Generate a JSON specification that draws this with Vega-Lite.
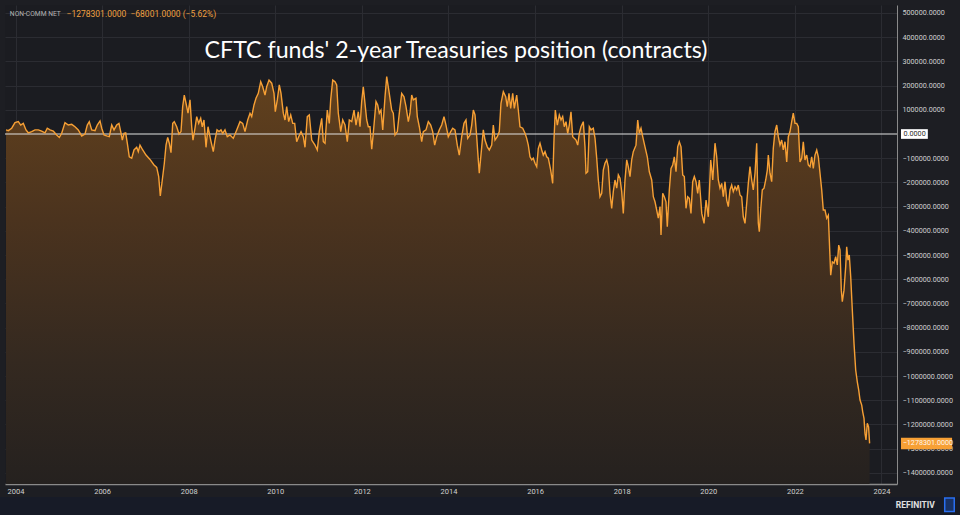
{
  "$schema": "https://vega.github.io/schema/vega-lite/v6.json",
  "width": 892,
  "height": 479,
  "autosize": {"type": "none"},
  "padding": {"left": 5, "top": 5, "right": 63, "bottom": 31},
  "background": "#1d1e23",
  "config": {
    "view": {"stroke": null, "fill": "#1b1c21"},
    "axis": {"labelFont": "Roboto", "labelColor": "#d0d0d0", "gridColor": "#2b2c32", "gridWidth": 1, "ticks": false, "title": null, "labelOverlap": false}
  },
  "title": {"text": "CFTC funds' 2-year Treasuries position (contracts)", "font": "Lato", "fontSize": 23.2, "fontWeight": "normal", "color": "#ffffff", "anchor": "middle", "frame": "group", "baseline": "alphabetic", "dx": 5, "dy": 80},
  "datasets": {"series": [
    {"t":2003.781,"v":17000},{"t":2003.834,"v":14000},{"t":2003.912,"v":24000},{"t":2003.988,"v":47000},{"t":2004.065,"v":51000},{"t":2004.120,"v":37000},{"t":2004.180,"v":44000},{"t":2004.242,"v":17000},{"t":2004.296,"v":5000},{"t":2004.374,"v":10000},
    {"t":2004.450,"v":17000},{"t":2004.527,"v":17000},{"t":2004.605,"v":12000},{"t":2004.681,"v":5000},{"t":2004.734,"v":24000},{"t":2004.797,"v":17000},{"t":2004.873,"v":12000},{"t":2004.951,"v":-4000},{"t":2005.012,"v":-14000},{"t":2005.067,"v":3000},
    {"t":2005.143,"v":47000},{"t":2005.219,"v":37000},{"t":2005.298,"v":40000},{"t":2005.374,"v":30000},{"t":2005.450,"v":17000},{"t":2005.529,"v":-8000},{"t":2005.605,"v":0},{"t":2005.658,"v":37000},{"t":2005.704,"v":51000},{"t":2005.760,"v":17000},
    {"t":2005.836,"v":14000},{"t":2005.889,"v":37000},{"t":2005.952,"v":54000},{"t":2005.991,"v":24000},{"t":2006.044,"v":-4000},{"t":2006.106,"v":-8000},{"t":2006.166,"v":-11000},{"t":2006.222,"v":37000},{"t":2006.275,"v":17000},{"t":2006.337,"v":37000},
    {"t":2006.390,"v":44000},{"t":2006.430,"v":10000},{"t":2006.467,"v":-25000},{"t":2006.506,"v":3000},{"t":2006.545,"v":5000},{"t":2006.582,"v":-38000},{"t":2006.628,"v":-94000},{"t":2006.684,"v":-100000},{"t":2006.737,"v":-66000},{"t":2006.799,"v":-55000},
    {"t":2006.836,"v":-73000},{"t":2006.875,"v":-46000},{"t":2006.938,"v":-66000},{"t":2007.014,"v":-87000},{"t":2007.106,"v":-105000},{"t":2007.199,"v":-128000},{"t":2007.261,"v":-138000},{"t":2007.307,"v":-176000},{"t":2007.344,"v":-256000},{"t":2007.390,"v":-190000},
    {"t":2007.437,"v":-121000},{"t":2007.476,"v":-46000},{"t":2007.515,"v":-14000},{"t":2007.552,"v":-38000},{"t":2007.591,"v":-77000},{"t":2007.631,"v":44000},{"t":2007.667,"v":51000},{"t":2007.723,"v":30000},{"t":2007.776,"v":0},{"t":2007.822,"v":10000},
    {"t":2007.861,"v":113000},{"t":2007.898,"v":161000},{"t":2007.938,"v":127000},{"t":2007.984,"v":86000},{"t":2008.030,"v":141000},{"t":2008.069,"v":30000},{"t":2008.099,"v":-25000},{"t":2008.139,"v":17000},{"t":2008.185,"v":72000},{"t":2008.231,"v":44000},
    {"t":2008.277,"v":65000},{"t":2008.314,"v":30000},{"t":2008.353,"v":58000},{"t":2008.400,"v":-55000},{"t":2008.446,"v":30000},{"t":2008.508,"v":-25000},{"t":2008.568,"v":-73000},{"t":2008.607,"v":-25000},{"t":2008.654,"v":17000},{"t":2008.700,"v":10000},
    {"t":2008.746,"v":17000},{"t":2008.785,"v":3000},{"t":2008.838,"v":17000},{"t":2008.891,"v":-11000},{"t":2008.954,"v":-4000},{"t":2009.030,"v":-18000},{"t":2009.109,"v":17000},{"t":2009.185,"v":51000},{"t":2009.247,"v":44000},{"t":2009.300,"v":10000},
    {"t":2009.363,"v":58000},{"t":2009.416,"v":86000},{"t":2009.455,"v":72000},{"t":2009.508,"v":120000},{"t":2009.554,"v":148000},{"t":2009.607,"v":168000},{"t":2009.663,"v":216000},{"t":2009.709,"v":195000},{"t":2009.762,"v":161000},{"t":2009.801,"v":195000},
    {"t":2009.855,"v":223000},{"t":2009.917,"v":210000},{"t":2009.970,"v":168000},{"t":2010.000,"v":92000},{"t":2010.046,"v":141000},{"t":2010.092,"v":203000},{"t":2010.132,"v":168000},{"t":2010.185,"v":86000},{"t":2010.224,"v":58000},{"t":2010.263,"v":113000},
    {"t":2010.309,"v":51000},{"t":2010.356,"v":79000},{"t":2010.402,"v":44000},{"t":2010.448,"v":44000},{"t":2010.494,"v":-32000},{"t":2010.540,"v":-11000},{"t":2010.594,"v":10000},{"t":2010.647,"v":-11000},{"t":2010.686,"v":-55000},{"t":2010.739,"v":72000},
    {"t":2010.785,"v":79000},{"t":2010.841,"v":-25000},{"t":2010.917,"v":-46000},{"t":2010.970,"v":-66000},{"t":2011.016,"v":10000},{"t":2011.072,"v":65000},{"t":2011.109,"v":-32000},{"t":2011.148,"v":-38000},{"t":2011.201,"v":99000},{"t":2011.247,"v":44000},
    {"t":2011.279,"v":141000},{"t":2011.326,"v":223000},{"t":2011.379,"v":216000},{"t":2011.418,"v":203000},{"t":2011.455,"v":86000},{"t":2011.511,"v":10000},{"t":2011.557,"v":58000},{"t":2011.610,"v":37000},{"t":2011.663,"v":-32000},{"t":2011.709,"v":58000},
    {"t":2011.765,"v":51000},{"t":2011.818,"v":99000},{"t":2011.864,"v":37000},{"t":2011.917,"v":92000},{"t":2011.956,"v":30000},{"t":2011.995,"v":134000},{"t":2012.032,"v":195000},{"t":2012.079,"v":113000},{"t":2012.111,"v":58000},{"t":2012.148,"v":30000},
    {"t":2012.187,"v":30000},{"t":2012.227,"v":-63000},{"t":2012.263,"v":3000},{"t":2012.326,"v":134000},{"t":2012.365,"v":120000},{"t":2012.402,"v":86000},{"t":2012.441,"v":99000},{"t":2012.481,"v":17000},{"t":2012.534,"v":154000},{"t":2012.573,"v":237000},
    {"t":2012.626,"v":175000},{"t":2012.688,"v":99000},{"t":2012.725,"v":86000},{"t":2012.765,"v":-4000},{"t":2012.818,"v":10000},{"t":2012.864,"v":86000},{"t":2012.919,"v":168000},{"t":2012.972,"v":154000},{"t":2013.019,"v":113000},{"t":2013.072,"v":51000},
    {"t":2013.111,"v":86000},{"t":2013.150,"v":161000},{"t":2013.187,"v":141000},{"t":2013.249,"v":148000},{"t":2013.279,"v":72000},{"t":2013.326,"v":30000},{"t":2013.381,"v":-32000},{"t":2013.418,"v":10000},{"t":2013.480,"v":17000},{"t":2013.534,"v":51000},
    {"t":2013.589,"v":37000},{"t":2013.635,"v":10000},{"t":2013.681,"v":-46000},{"t":2013.728,"v":-11000},{"t":2013.788,"v":17000},{"t":2013.843,"v":37000},{"t":2013.896,"v":72000},{"t":2013.942,"v":37000},{"t":2013.995,"v":-11000},{"t":2014.051,"v":10000},
    {"t":2014.097,"v":24000},{"t":2014.150,"v":17000},{"t":2014.203,"v":-46000},{"t":2014.249,"v":-87000},{"t":2014.305,"v":-11000},{"t":2014.358,"v":44000},{"t":2014.404,"v":58000},{"t":2014.443,"v":-18000},{"t":2014.497,"v":-4000},{"t":2014.536,"v":37000},
    {"t":2014.573,"v":99000},{"t":2014.612,"v":79000},{"t":2014.651,"v":-11000},{"t":2014.688,"v":-107000},{"t":2014.711,"v":-162000},{"t":2014.767,"v":-53000},{"t":2014.804,"v":17000},{"t":2014.843,"v":-25000},{"t":2014.896,"v":-53000},{"t":2014.942,"v":-66000},
    {"t":2014.998,"v":-46000},{"t":2015.035,"v":37000},{"t":2015.074,"v":-25000},{"t":2015.127,"v":-11000},{"t":2015.173,"v":10000},{"t":2015.212,"v":127000},{"t":2015.266,"v":175000},{"t":2015.321,"v":154000},{"t":2015.358,"v":113000},{"t":2015.397,"v":168000},
    {"t":2015.436,"v":106000},{"t":2015.483,"v":168000},{"t":2015.520,"v":106000},{"t":2015.575,"v":161000},{"t":2015.612,"v":99000},{"t":2015.651,"v":30000},{"t":2015.714,"v":24000},{"t":2015.767,"v":3000},{"t":2015.806,"v":-18000},{"t":2015.843,"v":-46000},
    {"t":2015.882,"v":-94000},{"t":2015.922,"v":-107000},{"t":2015.958,"v":-100000},{"t":2015.998,"v":-121000},{"t":2016.037,"v":-135000},{"t":2016.074,"v":-59000},{"t":2016.113,"v":-38000},{"t":2016.153,"v":-66000},{"t":2016.189,"v":-87000},{"t":2016.229,"v":-73000},
    {"t":2016.268,"v":-94000},{"t":2016.305,"v":-100000},{"t":2016.360,"v":-149000},{"t":2016.406,"v":-204000},{"t":2016.436,"v":-25000},{"t":2016.467,"v":99000},{"t":2016.513,"v":37000},{"t":2016.559,"v":79000},{"t":2016.598,"v":58000},{"t":2016.637,"v":72000},
    {"t":2016.674,"v":30000},{"t":2016.714,"v":51000},{"t":2016.753,"v":3000},{"t":2016.790,"v":37000},{"t":2016.829,"v":92000},{"t":2016.868,"v":-11000},{"t":2016.905,"v":-18000},{"t":2016.945,"v":-25000},{"t":2016.984,"v":-46000},{"t":2017.021,"v":3000},
    {"t":2017.060,"v":30000},{"t":2017.113,"v":51000},{"t":2017.152,"v":-53000},{"t":2017.176,"v":-162000},{"t":2017.215,"v":-156000},{"t":2017.252,"v":30000},{"t":2017.291,"v":17000},{"t":2017.344,"v":24000},{"t":2017.384,"v":-18000},{"t":2017.423,"v":-100000},
    {"t":2017.460,"v":-190000},{"t":2017.499,"v":-259000},{"t":2017.538,"v":-245000},{"t":2017.575,"v":-149000},{"t":2017.614,"v":-121000},{"t":2017.654,"v":-107000},{"t":2017.691,"v":-135000},{"t":2017.730,"v":-245000},{"t":2017.769,"v":-307000},{"t":2017.806,"v":-238000},
    {"t":2017.845,"v":-190000},{"t":2017.885,"v":-224000},{"t":2017.922,"v":-169000},{"t":2017.961,"v":-183000},{"t":2018.000,"v":-238000},{"t":2018.037,"v":-328000},{"t":2018.076,"v":-190000},{"t":2018.116,"v":-107000},{"t":2018.152,"v":-135000},{"t":2018.192,"v":-176000},
    {"t":2018.231,"v":-107000},{"t":2018.268,"v":-73000},{"t":2018.330,"v":-46000},{"t":2018.370,"v":58000},{"t":2018.407,"v":3000},{"t":2018.446,"v":24000},{"t":2018.485,"v":-11000},{"t":2018.538,"v":-53000},{"t":2018.591,"v":-94000},{"t":2018.638,"v":-156000},
    {"t":2018.693,"v":-190000},{"t":2018.730,"v":-259000},{"t":2018.769,"v":-280000},{"t":2018.808,"v":-314000},{"t":2018.845,"v":-348000},{"t":2018.885,"v":-300000},{"t":2018.908,"v":-417000},{"t":2018.947,"v":-245000},{"t":2018.984,"v":-259000},{"t":2019.023,"v":-280000},
    {"t":2019.053,"v":-383000},{"t":2019.100,"v":-231000},{"t":2019.139,"v":-142000},{"t":2019.178,"v":-128000},{"t":2019.215,"v":-94000},{"t":2019.254,"v":-156000},{"t":2019.293,"v":-53000},{"t":2019.330,"v":-32000},{"t":2019.370,"v":-53000},{"t":2019.409,"v":-169000},
    {"t":2019.446,"v":-176000},{"t":2019.485,"v":-307000},{"t":2019.524,"v":-259000},{"t":2019.561,"v":-266000},{"t":2019.600,"v":-328000},{"t":2019.640,"v":-197000},{"t":2019.677,"v":-176000},{"t":2019.716,"v":-197000},{"t":2019.755,"v":-245000},{"t":2019.792,"v":-190000},
    {"t":2019.849,"v":-328000},{"t":2019.902,"v":-369000},{"t":2019.948,"v":-273000},{"t":2020.001,"v":-342000},{"t":2020.056,"v":-107000},{"t":2020.103,"v":-190000},{"t":2020.155,"v":-38000},{"t":2020.194,"v":-94000},{"t":2020.231,"v":-190000},{"t":2020.270,"v":-224000},
    {"t":2020.310,"v":-204000},{"t":2020.347,"v":-259000},{"t":2020.386,"v":-197000},{"t":2020.425,"v":-273000},{"t":2020.462,"v":-300000},{"t":2020.501,"v":-231000},{"t":2020.540,"v":-211000},{"t":2020.577,"v":-238000},{"t":2020.617,"v":-218000},{"t":2020.656,"v":-231000},
    {"t":2020.693,"v":-211000},{"t":2020.732,"v":-252000},{"t":2020.771,"v":-259000},{"t":2020.808,"v":-342000},{"t":2020.848,"v":-369000},{"t":2020.887,"v":-286000},{"t":2020.924,"v":-204000},{"t":2020.963,"v":-135000},{"t":2021.002,"v":-190000},{"t":2021.039,"v":-231000},
    {"t":2021.079,"v":-162000},{"t":2021.118,"v":-38000},{"t":2021.155,"v":-369000},{"t":2021.178,"v":-404000},{"t":2021.210,"v":-314000},{"t":2021.247,"v":-231000},{"t":2021.287,"v":-224000},{"t":2021.326,"v":-190000},{"t":2021.363,"v":-149000},{"t":2021.386,"v":-87000},
    {"t":2021.425,"v":-162000},{"t":2021.464,"v":-197000},{"t":2021.501,"v":-59000},{"t":2021.540,"v":10000},{"t":2021.580,"v":37000},{"t":2021.617,"v":-11000},{"t":2021.656,"v":-46000},{"t":2021.695,"v":-25000},{"t":2021.732,"v":-66000},{"t":2021.771,"v":-32000},
    {"t":2021.811,"v":-115000},{"t":2021.848,"v":-11000},{"t":2021.887,"v":10000},{"t":2021.926,"v":51000},{"t":2021.963,"v":86000},{"t":2022.002,"v":44000},{"t":2022.042,"v":44000},{"t":2022.079,"v":30000},{"t":2022.118,"v":-115000},{"t":2022.157,"v":-100000},
    {"t":2022.194,"v":-32000},{"t":2022.233,"v":-107000},{"t":2022.273,"v":-87000},{"t":2022.310,"v":-128000},{"t":2022.349,"v":-135000},{"t":2022.388,"v":-94000},{"t":2022.425,"v":-142000},{"t":2022.464,"v":-87000},{"t":2022.504,"v":-66000},{"t":2022.541,"v":-94000},
    {"t":2022.580,"v":-162000},{"t":2022.619,"v":-231000},{"t":2022.656,"v":-314000},{"t":2022.695,"v":-314000},{"t":2022.735,"v":-348000},{"t":2022.772,"v":-335000},{"t":2022.827,"v":-583000},{"t":2022.864,"v":-528000},{"t":2022.903,"v":-534000},{"t":2022.942,"v":-507000},
    {"t":2022.979,"v":-541000},{"t":2023.012,"v":-459000},{"t":2023.042,"v":-479000},{"t":2023.072,"v":-645000},{"t":2023.095,"v":-693000},{"t":2023.134,"v":-645000},{"t":2023.173,"v":-548000},{"t":2023.196,"v":-466000},{"t":2023.226,"v":-521000},{"t":2023.256,"v":-500000},
    {"t":2023.289,"v":-590000},{"t":2023.326,"v":-727000},{"t":2023.365,"v":-865000},{"t":2023.404,"v":-975000},{"t":2023.441,"v":-1024000},{"t":2023.474,"v":-1058000},{"t":2023.504,"v":-1099000},{"t":2023.543,"v":-1120000},{"t":2023.566,"v":-1148000},{"t":2023.596,"v":-1175000},
    {"t":2023.619,"v":-1237000},{"t":2023.642,"v":-1264000},{"t":2023.672,"v":-1195000},{"t":2023.702,"v":-1210300},{"t":2023.725,"v":-1278301}
  ],
  "one": [{"label": "x"}]},
  "layer": [
    {"data": {"name": "series"},
     "mark": {"type": "area", "color": {"gradient": "linear", "x1": 0, "y1": 0, "x2": 0, "y2": 1, "stops": [{"offset": 0, "color": "#62411d"}, {"offset": 0.35, "color": "#4b331e"}, {"offset": 0.7, "color": "#342920"}, {"offset": 1, "color": "#25211f"}]}},
     "encoding": {
       "x": {"field": "t", "type": "quantitative", "scale": {"domain": [2003.7575, 2024.358], "nice": false, "zero": false},
         "axis": {"orient": "bottom", "values": [2004, 2006, 2008, 2010, 2012, 2014, 2016, 2018, 2020, 2022, 2024], "tickCount": 30, "format": "d", "labelFontSize": 7.5, "labelPadding": 3, "labelOverlap": false, "domainColor": "#8a8a8a", "domainWidth": 1.5, "grid": true}},
       "y": {"field": "v", "type": "quantitative", "scale": {"domain": [-1446000, 533000], "nice": false, "zero": false},
         "axis": {"orient": "right", "values": [-1400000, -1300000, -1200000, -1100000, -1000000, -900000, -800000, -700000, -600000, -500000, -400000, -300000, -200000, -100000, 100000, 200000, 300000, 400000, 500000], "tickCount": 40, "format": ".4f", "labelFontSize": 7.2, "labelPadding": 5, "labelOverlap": false, "labelBound": false, "domainColor": "#8a8a8a", "domainWidth": 1, "grid": true}},
       "y2": {"datum": -1446000}
     }},
    {"data": {"name": "one"},
     "mark": {"type": "rule", "color": "#e2e2e2", "strokeWidth": 1.2},
     "encoding": {"y": {"datum": 0, "type": "quantitative"}}},
    {"data": {"name": "series"},
     "mark": {"type": "line", "color": "#f7a035", "strokeWidth": 1.4},
     "encoding": {"x": {"field": "t", "type": "quantitative"}, "y": {"field": "v", "type": "quantitative"}}},
    {"data": {"name": "one"},
     "mark": {"type": "rect", "color": "#ffffff", "clip": false},
     "encoding": {"x": {"datum": 2024.45, "type": "quantitative"}, "x2": {"datum": 2025.07}, "y": {"datum": 20000, "type": "quantitative"}, "y2": {"datum": -20000}}},
    {"data": {"values": [{"label": "0.0000"}]},
     "mark": {"type": "text", "color": "#2a2a2a", "font": "Roboto", "fontSize": 7.2, "align": "left", "baseline": "middle"},
     "encoding": {"x": {"datum": 2024.51, "type": "quantitative"}, "y": {"datum": 0, "type": "quantitative"}, "text": {"field": "label"}}},
    {"data": {"name": "one"},
     "mark": {"type": "rect", "color": "#f7a035", "clip": false},
     "encoding": {"x": {"datum": 2024.45, "type": "quantitative"}, "x2": {"datum": 2025.63}, "y": {"datum": -1255000, "type": "quantitative"}, "y2": {"datum": -1302000}}},
    {"data": {"values": [{"label": "−1278301.0000"}]},
     "mark": {"type": "text", "color": "#fff6ea", "font": "Roboto", "fontSize": 7.2, "align": "left", "baseline": "middle"},
     "encoding": {"x": {"datum": 2024.49, "type": "quantitative"}, "y": {"datum": -1278301, "type": "quantitative"}, "text": {"field": "label"}}},
    {"data": {"values": [{"label": "NON-COMM NET"}]},
     "mark": {"type": "text", "color": "#b4b4b4", "font": "Roboto", "fontSize": 6.7, "align": "left", "baseline": "middle"},
     "encoding": {"x": {"datum": 2003.87, "type": "quantitative"}, "y": {"datum": 496000, "type": "quantitative"}, "text": {"field": "label"}}},
    {"data": {"values": [{"label": "−1278301.0000\u00a0\u00a0−68001.0000\u00a0(−5.62%)"}]},
     "mark": {"type": "text", "color": "#f0a040", "font": "Roboto", "fontSize": 8.5, "align": "left", "baseline": "middle"},
     "encoding": {"x": {"datum": 2005.18, "type": "quantitative"}, "y": {"datum": 496000, "type": "quantitative"}, "text": {"field": "label"}}},
    {"data": {"name": "one"},
     "mark": {"type": "rect", "color": "#171b27", "clip": false},
     "encoding": {"x": {"datum": 2003.642, "type": "quantitative"}, "x2": {"datum": 2025.812}, "y": {"datum": -1500000, "type": "quantitative"}, "y2": {"datum": -1574000}}},
    {"data": {"values": [{"label": "REFINITIV"}]},
     "mark": {"type": "text", "color": "#e0e0e0", "font": "Roboto", "fontSize": 8.5, "fontWeight": "bold", "align": "center", "baseline": "middle"},
     "encoding": {"x": {"datum": 2024.78, "type": "quantitative"}, "y": {"datum": -1533000, "type": "quantitative"}, "text": {"field": "label"}}},
    {"data": {"name": "one"},
     "mark": {"type": "rect", "fill": "#1c5fd8", "fillOpacity": 0.35, "stroke": "#2a6ff0", "strokeWidth": 1.5, "clip": false},
     "encoding": {"x": {"datum": 2025.46, "type": "quantitative"}, "x2": {"datum": 2025.68}, "y": {"datum": -1504000, "type": "quantitative"}, "y2": {"datum": -1560000}}}
  ]
}
